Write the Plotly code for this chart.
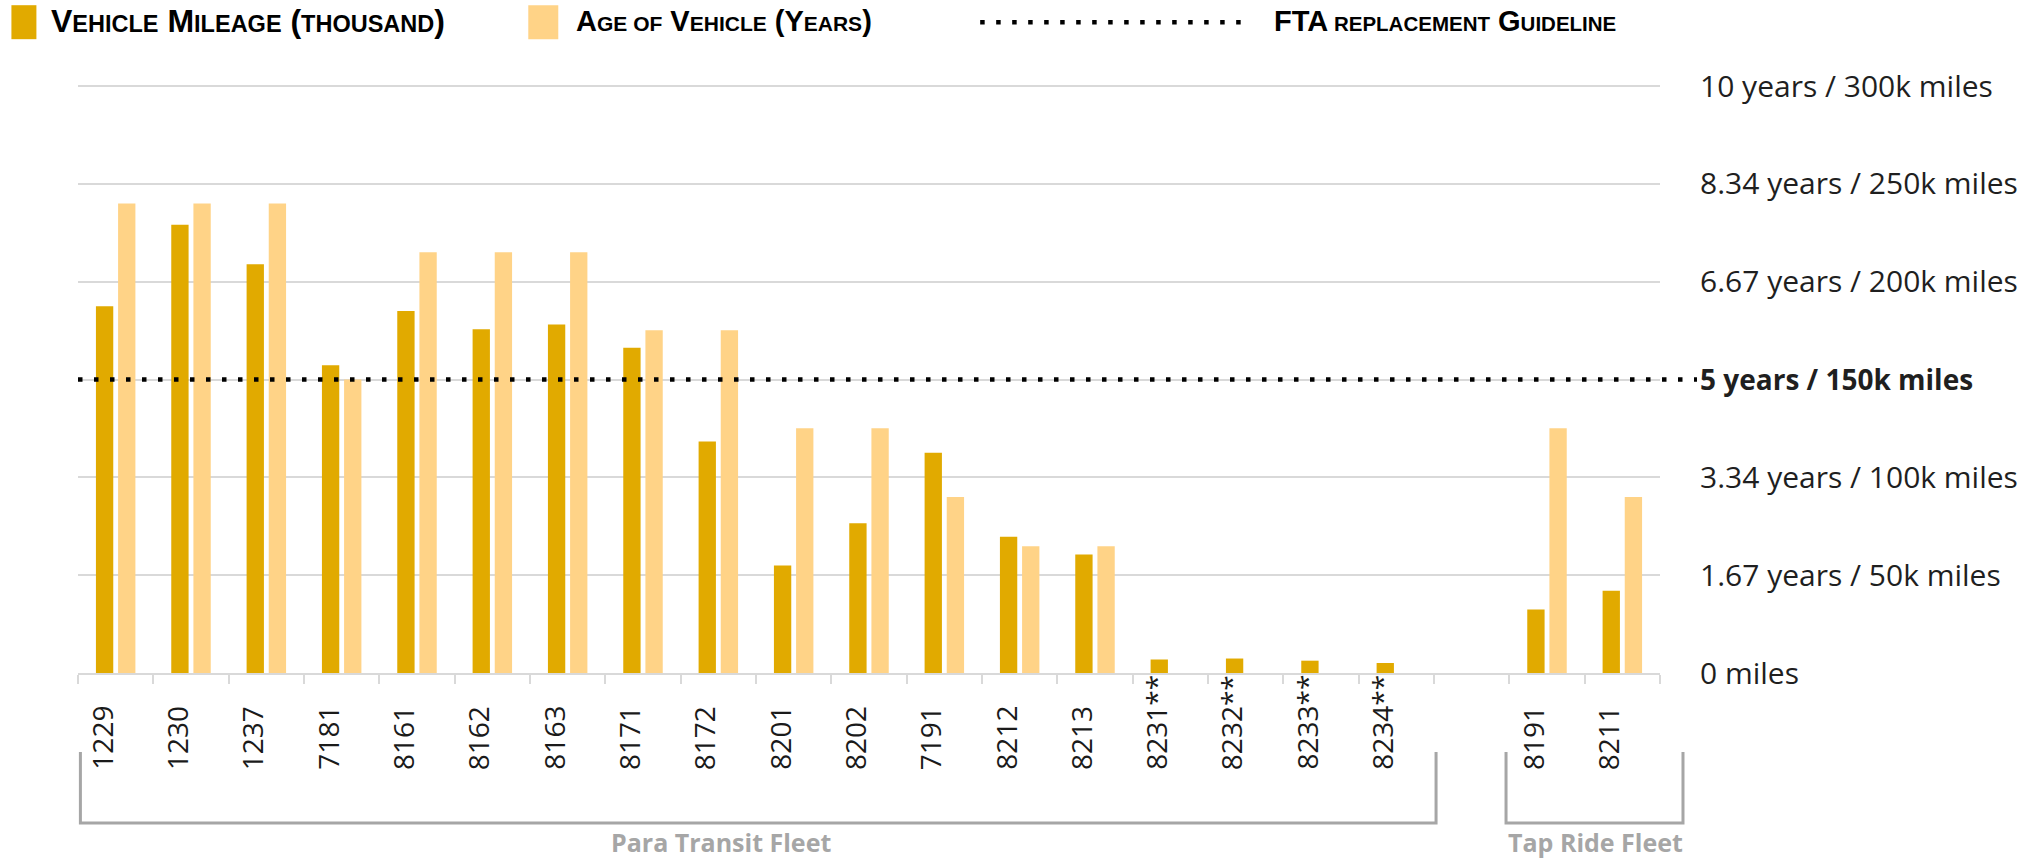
import plotly.graph_objects as go

# Vehicle numbers; a blank slot separates the two fleets
vehicles = ["1229", "1230", "1237", "7181", "8161", "8162", "8163", "8171", "8172",
            "8201", "8202", "7191", "8212", "8213", "8231**", "8232**", "8233**",
            "8234**", " ", "8191", "8211"]

# Mileage in thousands of miles
mileage_k = [187.5, 229.2, 209.0, 157.3, 185.0, 175.7, 178.1, 166.3, 118.4,
             55.0, 76.5, 112.6, 69.6, 60.6, 6.9, 7.4, 6.3, 5.1, None, 32.4, 42.1]

# Age in years
age_years = [8.0, 8.0, 8.0, 5.0, 7.17, 7.17, 7.17, 5.84, 5.84,
             4.17, 4.17, 3.0, 2.16, 2.16, None, None, None, None, None, 4.17, 3.0]

# Right-hand scale: miles and the equivalent years
tick_miles = [0, 50, 100, 150, 200, 250, 300]
tick_text = ["0 miles", "1.67 years / 50k miles", "3.34 years / 100k miles",
             '<b><span style="font-size:28px">5 years / 150k miles</span></b>',
             "6.67 years / 200k miles", "8.34 years / 250k miles",
             "10 years / 300k miles"]

guideline_k = 150

C_MILE = "#E1AA00"
C_AGE = "#FFD387"
C_GRID = "#D9D9D9"
C_BRACKET = "#A6A6A6"

W, H = 2029, 861
L, R, T, B = 77.6, 1660.0, 86.0, 673.0
PW, PH = R - L, B - T
Y_TOP = 300.6          # a touch above 300 so the top gridline is kept
T_PLOT = B - PH * Y_TOP / 300.0
PH2 = B - T_PLOT


def px(x):
    return (x - L) / PW


def py(y):
    return (B - y) / PH2


fig = go.Figure()
fig.add_trace(go.Bar(x=vehicles, y=mileage_k, name="Vehicle Mileage (thousand)",
                     marker=dict(color=C_MILE, line=dict(width=0)),
                     offset=-0.262, width=0.23, yaxis="y"))
fig.add_trace(go.Bar(x=vehicles, y=age_years, name="Age of Vehicle (Years)",
                     marker=dict(color=C_AGE, line=dict(width=0)),
                     offset=0.032, width=0.23, yaxis="y2"))

TICK_FONT = "Open Sans, Noto Sans, sans-serif"

fig.update_layout(
    width=W, height=H,
    margin=dict(l=L, r=W - R, t=T_PLOT, b=H - B, pad=0),
    paper_bgcolor="white", plot_bgcolor="white",
    barmode="overlay", showlegend=False,
    xaxis=dict(type="category", categoryorder="array", categoryarray=vehicles,
               showticklabels=False, showgrid=False, zeroline=False,
               showline=True, linecolor=C_GRID, linewidth=2,
               ticks="outside", tickson="boundaries", ticklen=9,
               tickcolor=C_GRID, tickwidth=2, range=[-0.5, len(vehicles) - 0.5]),
    yaxis=dict(range=[0, Y_TOP], side="right", tickmode="array",
               tickvals=tick_miles, ticktext=tick_text,
               showgrid=True, gridcolor=C_GRID, gridwidth=2,
               zeroline=False, showline=False, ticks="",
               ticklabelstandoff=39,
               tickfont=dict(family=TICK_FONT, size=30, color="#1f1f1f")),
    yaxis2=dict(range=[0, Y_TOP / 30.0], overlaying="y", visible=False),
)

shapes = []
annotations = []

# FTA replacement guideline
shapes.append(dict(type="line", xref="paper", yref="y", x0=0, x1=px(1697),
                   y0=guideline_k, y1=guideline_k,
                   line=dict(color="black", width=4.5, dash="4.5px,11.5px")))

# Vehicle number labels, bottom-aligned and reading upward
for i, v in enumerate(vehicles):
    if v.strip():
        annotations.append(dict(x=i, xref="x", y=py(772), yref="paper",
                                text=v, textangle=-90, showarrow=False,
                                xanchor="center", yanchor="bottom", xshift=-14,
                                font=dict(family=TICK_FONT, size=28, color="#1a1a1a")))


# Fleet brackets
def bracket(x0, x1, top, bottom):
    return dict(type="path", xref="paper", yref="paper",
                path=f"M {px(x0)},{py(top)} L {px(x0)},{py(bottom)} "
                     f"L {px(x1)},{py(bottom)} L {px(x1)},{py(top)}",
                line=dict(color=C_BRACKET, width=3))


shapes.append(bracket(80, 1436, 752, 823))
shapes.append(bracket(1506, 1683, 752, 823))

GROUP_FONT = dict(family="Open Sans, sans-serif", size=25, color=C_BRACKET)
annotations.append(dict(x=px(721), y=py(842), xref="paper", yref="paper",
                        text="<b>Para Transit Fleet</b>", showarrow=False,
                        xanchor="center", yanchor="middle", font=GROUP_FONT))
annotations.append(dict(x=px(1595), y=py(842), xref="paper", yref="paper",
                        text="<b>Tap Ride Fleet</b>", showarrow=False,
                        xanchor="center", yanchor="middle", font=GROUP_FONT))

# Legend drawn across the top
LEG_FAMILY = "Liberation Sans Narrow, Arial Narrow, sans-serif"


def small(s, size):
    return f'<span style="font-size:{size}px">{s}</span>'


legend_y = 21
shapes.append(dict(type="rect", xref="paper", yref="paper",
                   x0=px(11), x1=px(36), y0=py(5), y1=py(39),
                   fillcolor=C_MILE, line=dict(width=0)))
annotations.append(dict(x=px(49), y=py(legend_y), xref="paper", yref="paper",
                        text="<b>V" + small("EHICLE", 23.5) + " M" + small("ILEAGE", 23.5) +
                             " (" + small("THOUSAND", 23.5) + ")</b>",
                        showarrow=False, xanchor="left", yanchor="middle",
                        font=dict(family=LEG_FAMILY, size=32, color="black")))
shapes.append(dict(type="rect", xref="paper", yref="paper",
                   x0=px(528), x1=px(558), y0=py(5), y1=py(39),
                   fillcolor=C_AGE, line=dict(width=0)))
annotations.append(dict(x=px(574), y=py(legend_y), xref="paper", yref="paper",
                        text="<b>A" + small("GE OF", 21) + " V" + small("EHICLE", 21) +
                             " (Y" + small("EARS", 21) + ")</b>",
                        showarrow=False, xanchor="left", yanchor="middle",
                        font=dict(family=LEG_FAMILY, size=29, color="black")))
shapes.append(dict(type="line", xref="paper", yref="paper",
                   x0=px(980), x1=px(1250), y0=py(legend_y + 1), y1=py(legend_y + 1),
                   line=dict(color="black", width=4.5, dash="4.5px,11.5px")))
annotations.append(dict(x=px(1272), y=py(legend_y), xref="paper", yref="paper",
                        text="<b>FTA" + small(" REPLACEMENT", 20.5) + " G" +
                             small("UIDELINE", 20.5) + "</b>",
                        showarrow=False, xanchor="left", yanchor="middle",
                        font=dict(family=LEG_FAMILY, size=29, color="black")))

fig.update_layout(shapes=shapes, annotations=annotations)
fig.write_html("out.html")
